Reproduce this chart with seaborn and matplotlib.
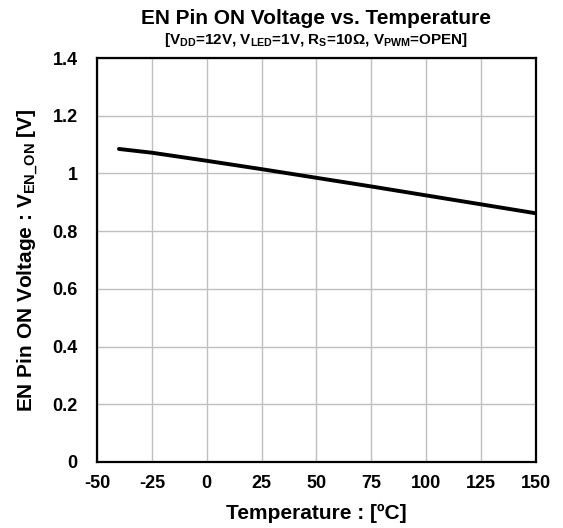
import numpy as np
import pandas as pd
import seaborn as sns
import matplotlib
matplotlib.use('Agg')
import matplotlib.pyplot as plt

# datos
temperatura = [-40, -25, 0, 25, 50, 75, 100, 125, 150]
v_en_on = [1.085, 1.072, 1.044, 1.015, 0.985, 0.955, 0.924, 0.893, 0.862]
x_ticks = [-50, -25, 0, 25, 50, 75, 100, 125, 150]
y_ticks = [0, 0.2, 0.4, 0.6, 0.8, 1, 1.2, 1.4]
y_tick_labels = ['0', '0.2', '0.4', '0.6', '0.8', '1', '1.2', '1.4']

df = pd.DataFrame({'Temp': temperatura, 'V': v_en_on})

sns.set_style('white')
plt.rcParams['font.family'] = ['Liberation Sans', 'DejaVu Sans']
plt.rcParams['font.weight'] = 'bold'
plt.rcParams['axes.unicode_minus'] = False
plt.rcParams['text.color'] = 'black'
plt.rcParams['axes.labelcolor'] = 'black'
plt.rcParams['xtick.color'] = 'black'
plt.rcParams['ytick.color'] = 'black'
plt.rcParams['mathtext.fontset'] = 'custom'
plt.rcParams['mathtext.rm'] = 'Liberation Sans:bold'
plt.rcParams['mathtext.it'] = 'Liberation Sans:bold'
plt.rcParams['mathtext.bf'] = 'Liberation Sans:bold'

fig = plt.figure(figsize=(5.63, 5.28), dpi=100)
ax = fig.add_axes([0.1723, 0.125, 0.7797, 0.765])

sns.lineplot(data=df, x='Temp', y='V', color='black', linewidth=2.8, ax=ax)

ax.set_xlim(-50, 150)
ax.set_ylim(0, 1.4)
ax.set_xticks(x_ticks)
ax.set_yticks(y_ticks)
ax.set_yticklabels(y_tick_labels)
ax.grid(True, color='#bfbfbf', linewidth=1.0)
for s in ax.spines.values():
    s.set_color('black')
    s.set_linewidth(1.6)
ax.tick_params(axis='both', labelsize=13, length=0)
ax.tick_params(axis='x', pad=9)
ax.tick_params(axis='y', pad=14)
for lab in ax.get_xticklabels() + ax.get_yticklabels():
    lab.set_fontweight('bold')

ax.set_xlabel('Temperature : [ºC]', fontsize=15, fontweight='bold', labelpad=9)
ax.set_ylabel(r'EN Pin ON Voltage : V$_{EN\_ON}$ [V]', fontsize=15,
              fontweight='bold', labelpad=9)

ax.text(0.5, 1.097, 'EN Pin ON Voltage vs. Temperature', transform=ax.transAxes,
        ha='center', va='center', fontsize=15, fontweight='bold')
ax.text(0.5, 1.045,
        r'[V$_{DD}$=12V, V$_{LED}$=1V, R$_{S}$=10Ω, V$_{PWM}$=OPEN]',
        transform=ax.transAxes, ha='center', va='center', fontsize=11,
        fontweight='bold')

plt.savefig('out.png', dpi=100)
